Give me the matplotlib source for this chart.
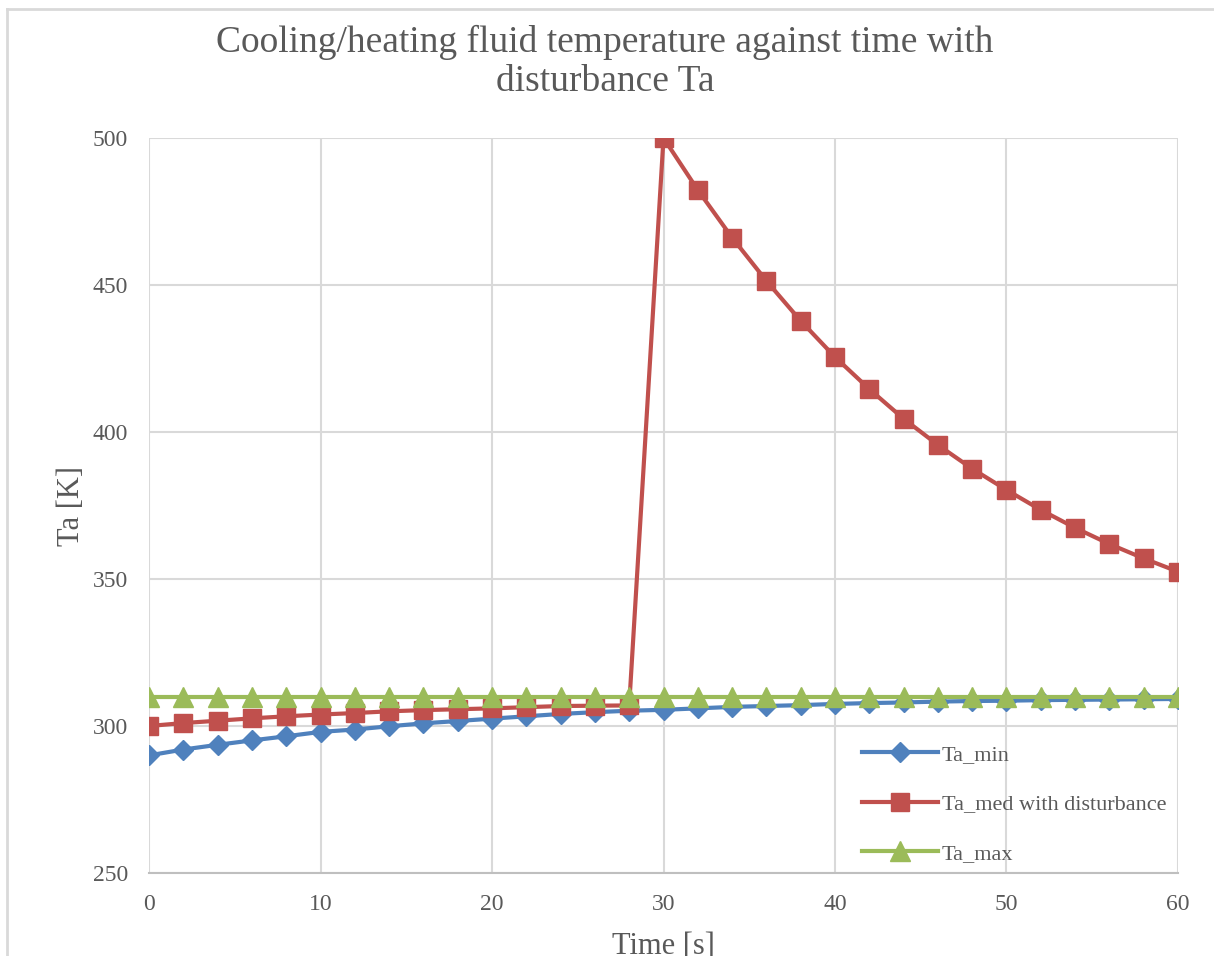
import matplotlib
matplotlib.use("Agg")
import matplotlib.pyplot as plt
from matplotlib.lines import Line2D

# time axis, one sample every 2 s
time_s = list(range(0, 61, 2))

ta_min = [290.0, 292.0, 293.6, 295.1, 296.5, 298.0, 298.8, 299.9, 300.9, 301.7,
          302.5, 303.3, 304.1, 304.7, 305.2, 305.5, 306.0, 306.5, 306.8, 307.1,
          307.5, 307.8, 308.0, 308.3, 308.5, 308.6, 308.8, 308.9, 309.0, 309.1,
          309.2]
ta_med_dist = [300.0, 301.0, 301.8, 302.6, 303.3, 303.9, 304.4, 305.0, 305.4, 305.7,
               306.0, 306.4, 306.8, 306.9, 307.0,
               500.0, 482.3, 466.1, 451.4, 437.8, 425.5, 414.6, 404.5, 395.6, 387.5,
               380.3, 373.5, 367.4, 361.9, 357.0, 352.5]
ta_max = [310.0] * len(time_s)

series_names = ["Ta_min", "Ta_med with disturbance", "Ta_max"]

W, H = 1214, 956
fig = plt.figure(figsize=(W / 100, H / 100), dpi=100)
plt.rcParams['font.family'] = ['Liberation Serif', 'DejaVu Serif']
txt = '#595959'
grid_c = '#d9d9d9'

# chart area outline (left and top edges)
fig.add_artist(Line2D([7 / W, 7 / W], [0, 1 - 9 / H], transform=fig.transFigure,
                      color=grid_c, lw=2))
fig.add_artist(Line2D([7 / W, 1], [1 - 9 / H, 1 - 9 / H], transform=fig.transFigure,
                      color=grid_c, lw=2))

ax = fig.add_axes([149 / W, 1 - 873 / H, (1178 - 149) / W, (873 - 138) / H])

ax.plot(time_s, ta_min, color='#4F81BD', lw=3, marker='D', markersize=10.5,
        label=series_names[0], zorder=3)
ax.plot(time_s, ta_med_dist, color='#C0504D', lw=3, marker='s', markersize=13.5,
        label=series_names[1], zorder=4)
ax.plot(time_s, ta_max, color='#9BBB59', lw=3, marker='^', markersize=14,
        label=series_names[2], zorder=5)

ax.set_xlim(0, 60)
ax.set_ylim(250, 500)
ax.set_xticks(range(0, 61, 10))
ax.set_yticks(range(250, 501, 50))
ax.grid(True, color=grid_c, lw=1.5)
ax.set_axisbelow(True)
for s in ['top', 'right', 'left']:
    ax.spines[s].set_visible(False)
ax.spines['bottom'].set_color('#bfbfbf')
ax.spines['bottom'].set_linewidth(1.5)
ax.tick_params(length=0, labelsize=17, labelcolor=txt)
ax.tick_params(axis='y', pad=15)
ax.tick_params(axis='x', pad=15)
for lab in ax.get_xticklabels() + ax.get_yticklabels():
    lab.set_clip_on(False)

ax.set_xlabel('Time [s]', fontsize=22, color=txt, labelpad=12)
ax.set_ylabel('Ta [K]', fontsize=22, color=txt, labelpad=5)

fig.text(605 / W, 1 - 62 / H,
         'Cooling/heating fluid temperature against time with\ndisturbance Ta',
         ha='center', va='center', fontsize=27, color=txt, linespacing=1.2)

ax.legend(loc='center left', bbox_to_anchor=(862 / W, 1 - 804 / H),
          bbox_transform=fig.transFigure, frameon=False, fontsize=16,
          handlelength=3.4, handletextpad=0.2, labelspacing=1.3,
          borderpad=0, borderaxespad=0, labelcolor=txt)

fig.savefig('out.png', dpi=100)
